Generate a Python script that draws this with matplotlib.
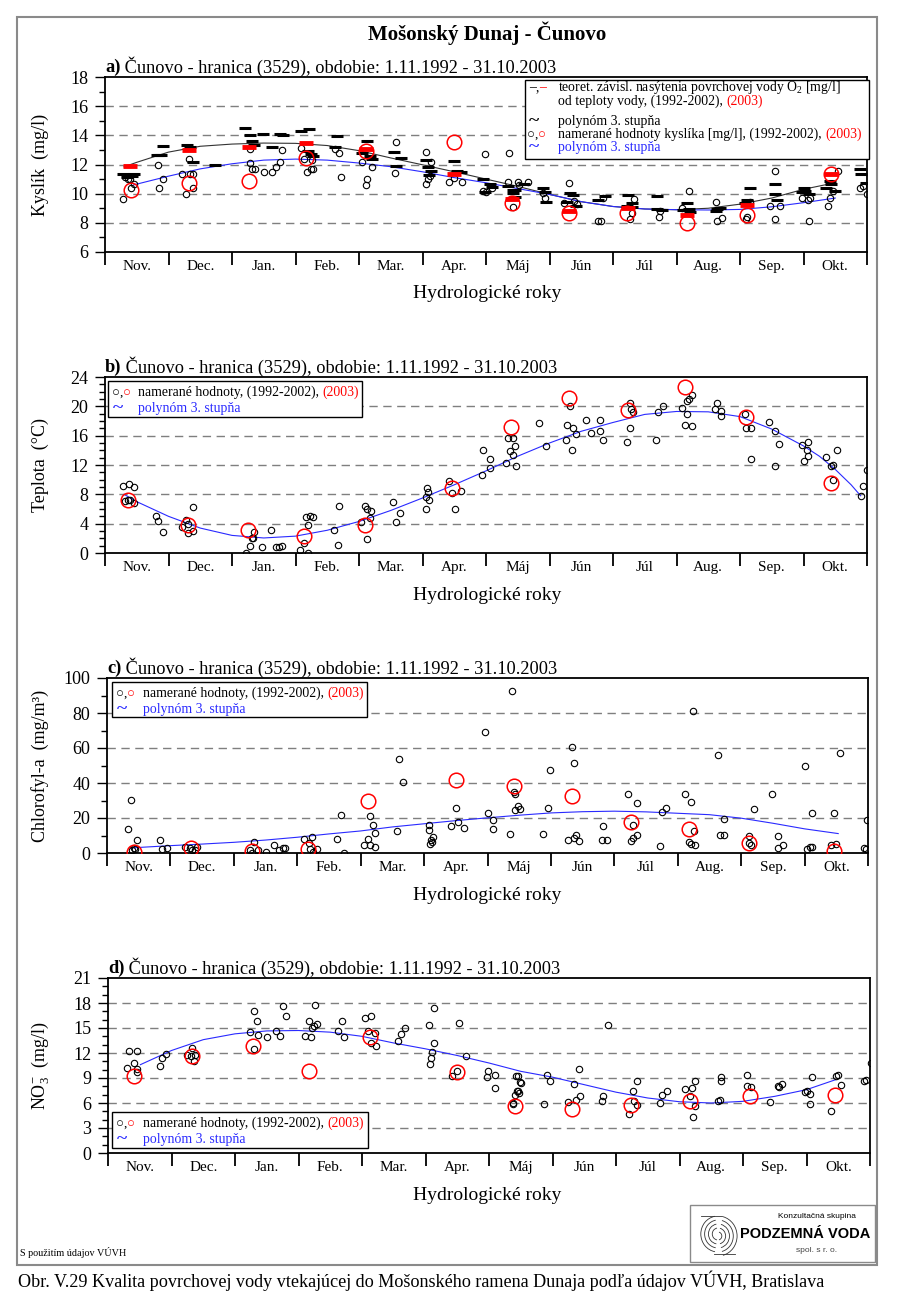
import matplotlib
matplotlib.use('Agg')
import matplotlib.pyplot as plt
from matplotlib.patches import Rectangle, Arc
from matplotlib.ticker import MultipleLocator, FixedLocator, NullFormatter
import numpy as np

plt.rcParams['font.family'] = ['Liberation Serif', 'DejaVu Sans']
plt.rcParams['mathtext.fontset'] = 'custom'
plt.rcParams['mathtext.rm'] = 'Liberation Serif'
plt.rcParams['mathtext.it'] = 'Liberation Serif:italic'
plt.rcParams['mathtext.bf'] = 'Liberation Serif:bold'

# ---------------- DATA (x in months from 1 Nov) ----------------
months = ['Nov.', 'Dec.', 'Jan.', 'Feb.', 'Mar.', 'Apr.', 'Máj', 'Jún', 'Júl', 'Aug.', 'Sep.', 'Okt.']

# a) dissolved oxygen
a_hist_m = [0.29,0.32,0.37,0.41,0.45,0.40,0.83,0.85,0.91,1.22,1.28,1.32,1.34,1.38,1.38,
            2.29,2.29,2.32,2.36,2.50,2.63,2.69,2.76,2.79,3.09,3.14,3.18,3.24,3.26,3.28,
            3.62,3.68,3.71,4.04,4.11,4.13,4.20,4.59,4.57,5.05,5.05,5.08,5.12,5.13,
            5.42,5.49,5.62,5.98,5.95,6.00,6.10,6.36,6.34,6.43,6.50,6.52,6.66,
            6.90,6.93,7.31,7.43,7.38,7.23,7.77,7.81,7.85,8.30,8.33,8.27,8.73,8.74,
            9.08,9.20,9.63,9.71,9.62,10.11,10.10,10.15,10.55,10.55,10.47,10.63,
            10.98,11.09,11.07,11.10,11.38,11.42,11.47,11.55,11.89,11.93,12.0]
a_hist_o2 = [9.66,11.15,11.04,10.41,10.64,11.0,11.98,10.37,10.99,11.33,9.95,12.41,11.38,11.38,10.41,
             13.06,12.07,11.68,11.68,11.49,11.52,11.84,12.18,13.01,13.10,12.37,11.52,11.72,12.32,11.68,
             13.06,12.76,11.17,12.18,10.57,11.03,11.84,13.52,11.45,12.83,10.69,10.99,11.22,12.14,
             10.77,11.10,10.77,12.69,10.18,10.14,10.41,12.78,10.77,9.10,10.80,10.57,10.82,
             10.05,9.71,10.74,9.31,9.50,9.35,8.14,8.14,9.71,8.67,9.66,8.27,8.43,8.80,
             9.00,10.15,8.16,8.31,9.45,8.43,8.25,9.45,11.54,8.27,9.17,9.17,
             9.71,8.16,9.57,9.73,9.13,9.70,10.17,11.54,10.40,10.50,10.0]
a_2003_m = [0.41,1.32,2.26,3.16,4.11,5.49,6.41,7.31,8.22,9.16,10.11,11.44]
a_2003_o2 = [10.25,10.76,10.85,12.48,12.94,13.56,9.38,8.69,8.69,8.0,8.55,11.32]
a_sat_hist_m = [0.29,0.37,0.42,0.45,0.35,0.82,0.85,0.88,0.91,1.29,1.34,1.39,1.74,
                2.20,2.29,2.32,2.34,2.49,2.63,2.76,2.80,3.08,3.22,3.20,3.27,3.24,3.66,3.62,
                4.13,4.05,4.18,4.21,4.55,4.58,4.66,5.05,5.08,5.13,5.10,5.50,5.55,5.60,
                5.95,5.98,6.07,6.09,6.34,6.45,6.45,6.60,6.43,6.43,
                6.90,6.93,6.95,7.33,7.37,7.27,7.42,7.77,7.87,8.23,8.22,8.30,8.30,
                8.69,8.69,8.77,9.16,9.19,9.21,9.11,9.64,9.69,9.62,10.16,10.11,10.08,
                10.55,10.55,10.58,11.0,11.03,11.08,10.97,11.36,11.42,11.44,11.50,11.89,11.91,11.99]
a_sat_hist = [11.33,11.26,11.22,11.33,11.15,12.64,12.68,12.64,13.29,13.33,13.22,12.18,11.98,
              14.48,14.02,13.63,13.33,14.09,13.22,14.07,14.02,14.28,14.44,12.94,12.60,12.75,13.93,13.22,
              13.63,12.78,12.55,12.37,12.87,11.91,12.48,12.30,11.80,11.57,11.30,12.25,11.57,11.52,
              10.99,10.11,10.64,10.45,10.53,10.25,9.77,10.64,10.28,10.05,
              10.39,10.09,9.43,10.05,9.89,9.43,9.13,9.54,9.82,9.93,9.17,9.08,9.36,
              9.82,8.94,8.90,9.36,8.97,8.71,8.85,8.94,9.02,8.80,10.39,9.54,9.36,
              10.67,9.98,9.59,10.39,10.16,9.98,10.09,10.39,10.85,10.67,10.21,11.70,11.38,10.74]
a_sat_2003_m = [0.40,1.32,2.26,3.16,4.11,5.49,6.41,7.31,8.24,9.16,10.11,11.44]
a_sat_2003 = [11.88,13.0,13.18,13.48,13.06,11.38,9.62,8.84,9.02,8.55,9.24,11.32]
a_fit_sat_m = [0.3,0.5,1.0,1.5,2.0,2.5,3.0,3.5,4.0,4.5,5.0,5.5,6.0,6.5,7.0,7.5,8.0,8.5,9.0,9.5,10.0,10.5,11.0,11.5]
a_fit_sat = [11.84,12.15,12.85,13.25,13.4,13.47,13.45,13.3,12.95,12.45,11.98,11.5,11.0,10.5,9.95,9.45,9.12,8.95,8.9,9.0,9.28,9.7,10.3,10.75]
a_fit_o2_m = [0.45,1.0,1.5,2.0,2.5,3.0,3.5,4.0,4.5,5.0,5.5,6.0,6.5,7.0,7.5,8.0,8.5,9.0,9.5,10.0,10.5,11.0,11.5]
a_fit_o2 = [10.6,11.2,11.7,12.05,12.3,12.37,12.3,12.1,11.85,11.5,11.1,10.75,10.35,9.95,9.45,9.12,8.95,8.9,8.88,8.92,9.1,9.38,9.7]

# b) water temperature
b_hist_m = [0.28,0.38,0.45,0.31,0.36,0.40,0.45,0.80,0.84,0.91,1.21,1.28,1.30,1.31,1.38,1.38,
            2.22,2.28,2.31,2.33,2.35,2.48,2.61,2.69,2.74,2.78,3.07,3.14,3.20,3.19,3.17,3.23,3.27,
            3.61,3.67,3.69,4.03,4.09,4.12,4.12,4.17,4.19,4.54,4.58,4.65,
            5.05,5.06,5.07,5.09,5.10,5.41,5.47,5.51,5.60,5.93,5.95,6.06,6.06,
            6.32,6.34,6.42,6.38,6.42,6.46,6.48,6.83,6.94,
            7.33,7.28,7.37,7.42,7.26,7.35,7.58,7.66,
            7.80,7.80,7.85,8.26,8.28,8.32,8.26,8.22,8.68,8.71,8.78,9.08,9.16,9.20,9.24,9.17,9.13,9.24,
            9.60,9.63,9.70,9.70,10.08,10.09,10.17,10.17,10.45,10.55,10.62,10.55,
            10.97,11.01,11.05,11.07,11.07,11.36,11.43,11.47,11.53,11.46,11.90,11.93,12.0]
b_hist_t = [9.09,9.45,9.0,7.09,7.18,7.27,6.82,5.0,4.32,2.86,3.55,4.45,2.73,4.0,6.27,3.0,
            0.0,0.95,2.05,2.0,2.86,0.82,3.18,0.82,0.82,0.95,0.36,1.41,0.05,3.82,4.91,5.05,4.91,
            3.09,1.14,6.36,4.23,6.36,5.95,1.95,4.82,5.73,6.95,4.23,5.45,
            5.95,7.64,8.9,8.3,7.18,9.82,8.18,6.05,8.41,10.6,14.0,12.86,11.64,
            12.3,15.73,15.73,13.9,13.4,14.55,11.8,17.7,14.6,
            20.1,17.4,17.0,16.2,15.4,14.0,18.1,16.4,
            18.1,16.7,15.4,20.5,19.7,19.2,17.0,15.1,15.4,19.2,20.0,19.8,20.7,21.0,21.5,18.9,17.4,17.3,
            19.6,20.5,19.3,18.7,19.0,17.1,17.0,12.8,17.9,16.6,14.8,11.8,
            14.7,12.6,14.0,15.2,13.2,13.1,11.9,12.0,14.1,9.9,7.8,9.1,11.3]
b_2003_m = [0.36,1.30,2.25,3.14,4.09,5.47,6.39,7.31,8.23,9.14,10.09,11.43]
b_2003_t = [7.18,3.77,3.09,2.32,3.86,8.9,17.2,21.1,19.5,22.6,18.5,9.6]
b_fit_m = [0.3,0.5,1.0,1.5,2.0,2.5,3.0,3.5,4.0,4.5,5.0,5.5,6.0,6.5,7.0,7.5,8.0,8.5,9.0,9.5,10.0,10.5,11.0,11.25,11.5,11.75,11.9]
b_fit_t = [8.0,7.0,5.0,3.4,2.4,2.05,2.3,3.1,4.3,5.8,7.5,9.3,11.2,13.2,15.0,16.6,17.8,18.9,19.3,19.25,18.6,16.9,14.6,13.2,11.4,9.3,7.8]

# c) chlorophyll-a
c_hist_m = [0.33,0.38,0.40,0.44,0.48,0.42,0.84,0.87,0.94,1.23,1.31,1.34,1.39,1.42,
            2.26,2.28,2.32,2.38,2.51,2.64,2.72,2.77,2.81,3.10,3.18,3.23,3.20,3.25,3.31,
            3.63,3.69,3.73,4.12,4.15,4.19,4.23,4.05,4.15,4.23,4.58,4.61,4.67,
            5.08,5.08,5.11,5.14,5.10,5.13,5.43,5.50,5.54,5.63,5.96,6.00,6.09,6.09,
            6.35,6.39,6.41,6.44,6.48,6.44,6.52,6.88,6.96,6.98,
            7.33,7.36,7.27,7.40,7.37,7.44,7.82,7.80,7.89,8.22,8.35,8.30,8.26,8.29,8.35,
            8.72,8.75,8.81,9.11,9.21,9.24,9.26,9.17,9.21,9.27,9.63,9.67,9.73,9.73,
            10.12,10.12,10.15,10.20,10.49,10.58,10.58,10.66,11.0,11.04,11.08,11.11,11.11,
            11.41,11.50,11.47,11.56,11.93,11.97,11.98]
c_hist_chl = [13.6,30.2,1.5,2.5,7.3,2.9,7.6,2.5,2.9,3.4,2.9,1.9,1.5,3.4,
              1.5,0.0,6.1,1.5,0.6,4.8,1.9,2.9,2.9,8.2,5.9,9.2,2.5,0.6,2.5,
              8.2,21.6,0.2,8.2,21.0,15.9,11.5,4.8,4.8,3.4,12.6,53.5,40.7,
              15.9,13.0,7.3,9.2,5.4,6.3,15.5,25.8,17.8,14.5,69.4,22.8,19.1,14.0,
              11.1,92.7,35.0,33.5,27.0,24.5,24.9,11.1,25.8,47.4,
              60.4,51.2,7.6,10.1,8.6,6.7,15.3,7.3,7.6,33.5,28.3,15.9,6.7,8.6,10.5,
              4.0,23.5,26.0,34.0,29.3,80.9,12.4,6.3,5.4,4.8,56.0,10.1,10.5,19.3,
              9.75,5.9,4.8,25.4,34.0,9.6,3.1,4.4,49.7,2.1,3.4,3.4,23.1,
              4.8,5.4,22.9,57.4,3.1,2.1,19.1]
c_2003_m = [0.42,1.33,2.28,3.17,4.12,5.50,6.41,7.33,8.26,9.17,10.12,11.47]
c_2003_chl = [0.6,2.9,1.0,2.1,29.6,41.7,38.2,32.5,17.8,14.0,5.7,1.1]
c_fit_m = [0.37,1.0,1.5,2.0,2.5,3.0,3.5,4.0,4.5,5.0,5.5,6.0,6.5,7.0,7.5,8.0,8.5,9.0,9.5,10.0,10.5,11.0,11.53]
c_fit_chl = [2.9,4.2,5.1,6.1,7.4,9.0,10.9,12.6,14.9,16.7,18.5,20.1,21.6,22.9,23.6,23.9,23.5,22.7,21.9,19.9,17.0,13.8,11.1]

# d) nitrates
d_hist_m = [0.30,0.33,0.46,0.41,0.45,0.46,0.82,0.85,0.92,1.24,1.33,1.35,1.37,1.30,
            2.24,2.30,2.34,2.30,2.37,2.51,2.64,2.71,2.76,2.80,3.10,3.16,3.19,3.22,3.24,3.26,3.29,
            3.62,3.68,3.72,4.04,4.14,4.10,4.14,4.21,4.22,4.57,4.61,4.67,
            5.06,5.07,5.09,5.11,5.13,5.14,5.42,5.50,5.53,5.63,5.97,5.98,6.09,6.09,
            6.38,6.41,6.46,6.48,6.45,6.51,6.43,6.49,6.44,6.38,
            6.86,6.92,6.96,7.25,7.34,7.41,7.44,7.37,7.78,7.80,7.87,
            8.21,8.26,8.33,8.28,8.33,8.70,8.73,8.80,9.09,9.19,9.17,9.25,9.24,9.21,
            9.60,9.63,9.66,9.66,10.06,10.07,10.13,10.43,10.55,10.57,10.62,
            10.97,11.00,11.06,11.06,11.09,11.38,11.46,11.49,11.54,11.90,11.94,12.02]
d_hist_no3 = [10.2,12.3,12.3,10.8,10.1,9.7,10.4,11.4,11.9,11.8,12.6,11.0,11.8,11.6,
              14.5,17.1,15.8,12.5,14.2,13.9,14.7,14.1,17.6,16.4,14.1,15.9,13.9,15.0,15.3,17.8,15.5,
              14.7,15.9,13.9,16.2,16.5,14.7,13.2,14.4,12.9,13.4,14.3,15.0,
              15.4,10.7,11.4,12.1,13.2,17.4,9.3,9.9,15.6,11.7,9.1,9.8,9.4,7.8,
              5.9,7.0,7.4,7.2,9.3,8.4,9.3,8.5,7.5,6.0,
              5.9,9.4,8.6,6.1,8.3,10.1,6.9,6.4,6.3,6.8,15.4,
              4.7,7.5,8.6,6.2,5.8,6.0,7.0,7.4,7.7,7.8,6.8,8.7,5.6,4.3,
              6.2,6.4,9.1,8.6,9.4,8.1,7.9,6.1,8.1,7.9,8.3,
              7.3,7.4,5.9,7.1,9.1,5.0,9.2,9.4,8.2,8.6,8.8,10.8]
d_2003_m = [0.41,1.33,2.28,3.16,4.12,5.50,6.41,7.31,8.23,9.16,10.11,11.45]
d_2003_no3 = [9.3,11.7,12.8,9.9,13.9,9.7,5.6,5.3,5.8,6.3,6.9,7.0]
d_fit_m = [0.51,1.0,1.5,2.0,2.5,3.0,3.5,4.0,4.5,5.0,5.5,6.0,6.5,7.0,7.5,8.0,8.5,9.0,9.5,10.0,10.5,11.0,11.46]
d_fit_no3 = [10.6,12.3,13.6,14.3,14.65,14.7,14.5,14.0,13.2,12.5,11.7,10.8,9.8,9.1,8.2,7.3,6.6,6.15,6.0,6.2,6.8,7.6,8.8]

# ---------------- FIGURE ----------------
W, H = 900, 1306
fig = plt.figure(figsize=(9, 13.06), dpi=100)
fig.patch.set_facecolor('white')
renderer = fig.canvas.get_renderer()


def fx(x):
    return x / W


def fy(y):
    return 1 - y / H


def chain(x, y, parts, size, va='baseline', **kw):
    """Draw consecutive text parts [(text, color, weight)] starting at pixel x,y."""
    cur = x
    for txt, col, wt in parts:
        t = fig.text(fx(cur), fy(y), txt, color=col, fontsize=size, fontweight=wt,
                     ha='left', va=va, **kw)
        bb = t.get_window_extent(renderer=renderer)
        cur = bb.x1
    return cur


def add_panel(left, top, right, bottom):
    return fig.add_axes([fx(left), fy(bottom), (right - left) / W, (bottom - top) / H])


def style_panel(ax, ymin, ymax, major, minor, grid_vals):
    ax.set_xlim(0, 12)
    ax.set_ylim(ymin, ymax)
    ax.xaxis.set_major_locator(FixedLocator(list(range(13))))
    ax.xaxis.set_major_formatter(NullFormatter())
    ax.set_xticks(np.arange(12) + 0.5, minor=True)
    ax.set_xticklabels(months, minor=True)
    ax.tick_params(axis='x', which='major', length=9, width=1.3, direction='out')
    ax.tick_params(axis='x', which='minor', length=0, pad=6, labelsize=11)
    ax.yaxis.set_major_locator(MultipleLocator(major))
    ax.yaxis.set_minor_locator(MultipleLocator(minor))
    ax.tick_params(axis='y', which='major', length=7, width=1.0, labelsize=13, pad=5)
    ax.tick_params(axis='y', which='minor', length=4, width=1.0)
    for g in grid_vals:
        ax.axhline(g, color='#7f7f7f', lw=1.0, ls=(0, (6, 4)), zorder=0)
    for s in ax.spines.values():
        s.set_linewidth(1.3)


def scatter_sets(ax, hm, hv, rm, rv):
    ax.plot(hm, hv, 'o', ms=4.6, mfc='none', mec='black', mew=0.8, ls='none', zorder=4)
    ax.plot(rm, rv, 'o', ms=10.5, mfc='none', mec='red', mew=1.1, ls='none', zorder=5)


BLUE = '#2a2aff'

# outer frame
fig.add_artist(Rectangle((fx(17), fy(1265)), (877 - 17) / W, (1265 - 17) / H,
                         transform=fig.transFigure, fill=False, ec='#8a8a8a', lw=1.5))

fig.text(fx(487), fy(33), 'Mošonský Dunaj - Čunovo', fontsize=15, fontweight='bold',
         ha='center', va='center')

panel_geo = [(105, 77, 867, 252), (105, 377, 867, 553), (107, 678, 868, 853), (108, 978, 870, 1153)]
letters = ['a)', 'b)', 'c)', 'd)']
ylabels = ['Kyslík  (mg/l)', 'Teplota  (°C)', 'Chlorofyl-a  (mg/m³)', r'NO$_3^{-}$  (mg/l)']

axes = []
for (l, t, r, b), let, yl in zip(panel_geo, letters, ylabels):
    ax = add_panel(l, t, r, b)
    axes.append(ax)
    chain(l, t - 10, [(let, 'black', 'bold'),
                      (' Čunovo - hranica (3529), obdobie: 1.11.1992 - 31.10.2003', 'black', 'normal')],
          13.2, va='center')
    fig.text(fx(487), fy(b + 42), 'Hydrologické roky', fontsize=14, ha='center', va='center')
    fig.text(fx(40), fy((t + b) / 2), yl, fontsize=13, rotation=90, ha='center', va='center')

LS = 9.9

# ---- panel a
ax = axes[0]
style_panel(ax, 6, 18, 2, 1, [8, 10, 12, 14, 16])
ax.plot(a_fit_sat_m, a_fit_sat, color='#333333', lw=0.8, zorder=3)
ax.plot(a_fit_o2_m, a_fit_o2, color=BLUE, lw=0.8, zorder=3)
ax.plot(a_sat_hist_m, a_sat_hist, marker='_', ms=8, mew=2.2, color='black', ls='none', zorder=4)
ax.plot(a_sat_2003_m, a_sat_2003, marker='_', ms=10, mew=3.5, color='red', ls='none', zorder=5)
scatter_sets(ax, a_hist_m, a_hist_o2, a_2003_m, a_2003_o2)

# legend a
fig.add_artist(Rectangle((fx(525), fy(159)), (869 - 525) / W, (159 - 80) / H,
                         transform=fig.transFigure, fill=True, fc='white', ec='black', lw=1.0, zorder=10))
chain(529, 91, [('–', 'black', 'normal'), (',', 'black', 'normal'), ('–', 'red', 'normal')], LS, zorder=11)
chain(558, 91, [('teoret. závisl. nasýtenia povrchovej vody O$_2$ [mg/l]', 'black', 'normal')], LS, zorder=11)
chain(558, 105, [('od teploty vody, (1992-2002), ', 'black', 'normal'), ('(2003)', 'red', 'normal')], LS, zorder=11)
chain(529, 126, [('~', 'black', 'bold')], 14, zorder=11)
chain(558, 125, [('polynóm 3. stupňa', 'black', 'normal')], LS, zorder=11)
chain(527, 138, [('○', 'black', 'normal'), (',', 'black', 'normal'), ('○', 'red', 'normal')], 9.5, zorder=11)
chain(558, 138, [('namerané hodnoty kyslíka [mg/l], (1992-2002), ', 'black', 'normal'),
                 ('(2003)', 'red', 'normal')], LS, zorder=11)
chain(529, 152, [('~', BLUE, 'bold')], 14, zorder=11)
chain(558, 151, [('polynóm 3. stupňa', BLUE, 'normal')], LS, zorder=11)

# ---- panel b
ax = axes[1]
style_panel(ax, 0, 24, 4, 1, [4, 8, 12, 16, 20])
ax.plot(b_fit_m, b_fit_t, color=BLUE, lw=0.8, zorder=3)
scatter_sets(ax, b_hist_m, b_hist_t, b_2003_m, b_2003_t)

# ---- panel c
ax = axes[2]
style_panel(ax, 0, 100, 20, 10, [20, 40, 60, 80])
ax.plot(c_fit_m, c_fit_chl, color=BLUE, lw=0.8, zorder=3)
scatter_sets(ax, c_hist_m, c_hist_chl, c_2003_m, c_2003_chl)

# ---- panel d
ax = axes[3]
style_panel(ax, 0, 21, 3, 1, [3, 6, 9, 12, 15, 18])
ax.plot(d_fit_m, d_fit_no3, color=BLUE, lw=0.8, zorder=3)
scatter_sets(ax, d_hist_m, d_hist_no3, d_2003_m, d_2003_no3)

# small legends b, c, d
for (x0, y0, x1, y1, tx) in [(108, 381, 362, 417, 138), (112, 682, 367, 717, 143), (112, 1112, 368, 1148, 143)]:
    fig.add_artist(Rectangle((fx(x0), fy(y1)), (x1 - x0) / W, (y1 - y0) / H,
                             transform=fig.transFigure, fill=True, fc='white', ec='black', lw=1.0, zorder=10))
    r1 = y0 + 15
    r2 = y0 + 31
    chain(x0 + 4, r1, [('○', 'black', 'normal'), (',', 'black', 'normal'), ('○', 'red', 'normal')], 9.5, zorder=11)
    chain(tx, r1, [('namerané hodnoty, (1992-2002), ', 'black', 'normal'), ('(2003)', 'red', 'normal')], LS, zorder=11)
    chain(x0 + 5, r2 + 1, [('~', BLUE, 'bold')], 14, zorder=11)
    chain(tx, r2, [('polynóm 3. stupňa', BLUE, 'normal')], LS, zorder=11)

# footer
fig.text(fx(20), fy(1253), 'S použitím údajov VÚVH', fontsize=7.3, ha='left', va='center')
fig.text(fx(18), fy(1281), 'Obr. V.29 Kvalita povrchovej vody vtekajúcej do Mošonského ramena Dunaja podľa údajov VÚVH, Bratislava',
         fontsize=13.1, ha='left', va='center')

# logo box
fig.add_artist(Rectangle((fx(690), fy(1262)), (875 - 690) / W, (1262 - 1205) / H,
                         transform=fig.transFigure, fill=False, ec='#8a8a8a', lw=1.0))
fig.text(fx(817), fy(1216), 'Konzultačná skupina', fontsize=6, family='Liberation Sans', ha='center', va='center')
fig.text(fx(805), fy(1234), 'PODZEMNÁ VODA', fontsize=10.5, family='Liberation Sans', fontweight='bold',
         ha='center', va='center')
fig.text(fx(817), fy(1250), 'spol. s r. o.', fontsize=6, family='Liberation Sans', ha='center', va='center',
         color='#444444')
lax = fig.add_axes([fx(697), fy(1257), 42 / W, 44 / H])
lax.set_xlim(-1.1, 1.1)
lax.set_ylim(-1.1, 1.1)
lax.axis('off')
for r in [0.3, 0.5, 0.7, 0.9]:
    lax.add_patch(Arc((0, 0.05), 2 * r, 2 * r, theta1=100, theta2=260, lw=0.6, color='#333333'))
for r in [0.2, 0.4, 0.6, 0.8, 1.0]:
    lax.add_patch(Arc((0, -0.05), 2 * r, 2 * r, theta1=-75, theta2=75, lw=0.6, color='#333333'))
lax.plot([-0.9, 0.2], [0.95, 0.95], color='#333333', lw=0.6)
lax.plot([-0.2, 0.9], [-0.95, -0.95], color='#333333', lw=0.6)

fig.savefig('out.png', dpi=100, facecolor='white')
